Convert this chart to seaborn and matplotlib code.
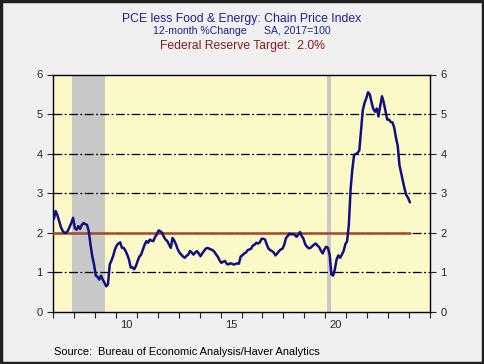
import numpy as np
import pandas as pd
import seaborn as sns
import matplotlib.pyplot as plt
from matplotlib.patches import Rectangle

# Core PCE, 12-month % change, monthly Jan 2007 - Jan 2024
y2007 = [2.35, 2.55, 2.45, 2.30, 2.15, 2.05, 2.00, 2.00, 2.05, 2.15, 2.25, 2.38]
y2008 = [2.12, 2.08, 2.17, 2.10, 2.20, 2.25, 2.22, 2.20, 2.04, 1.70, 1.41, 1.20]
y2009 = [0.92, 0.89, 0.82, 0.92, 0.82, 0.74, 0.65, 0.70, 1.20, 1.30, 1.42, 1.58]
y2010 = [1.68, 1.73, 1.76, 1.62, 1.62, 1.55, 1.45, 1.33, 1.12, 1.13, 1.08, 1.16]
y2011 = [1.29, 1.40, 1.45, 1.58, 1.70, 1.79, 1.75, 1.83, 1.80, 1.79, 1.90, 1.96]
y2012 = [2.06, 2.04, 2.00, 1.90, 1.83, 1.79, 1.70, 1.62, 1.87, 1.80, 1.70, 1.58]
y2013 = [1.50, 1.45, 1.40, 1.37, 1.42, 1.45, 1.54, 1.50, 1.45, 1.50, 1.54, 1.48]
y2014 = [1.41, 1.48, 1.54, 1.60, 1.62, 1.60, 1.58, 1.56, 1.52, 1.45, 1.39, 1.30]
y2015 = [1.24, 1.27, 1.29, 1.22, 1.20, 1.23, 1.22, 1.20, 1.21, 1.23, 1.22, 1.40]
y2016 = [1.43, 1.48, 1.50, 1.56, 1.58, 1.60, 1.68, 1.70, 1.75, 1.73, 1.76, 1.85]
y2017 = [1.85, 1.83, 1.70, 1.60, 1.56, 1.54, 1.50, 1.43, 1.48, 1.54, 1.58, 1.60]
y2018 = [1.70, 1.87, 1.92, 1.98, 1.96, 1.97, 1.95, 1.90, 1.95, 2.02, 1.92, 1.85]
y2019 = [1.71, 1.65, 1.61, 1.62, 1.66, 1.70, 1.73, 1.68, 1.64, 1.55, 1.48, 1.58]
y2020 = [1.65, 1.62, 1.45, 0.95, 0.92, 1.08, 1.33, 1.43, 1.37, 1.45, 1.54, 1.71]
y2021 = [1.79, 2.20, 3.10, 3.60, 3.97, 3.99, 4.02, 4.08, 4.60, 5.10, 5.28, 5.40]
y2022 = [5.55, 5.50, 5.30, 5.13, 5.06, 5.14, 4.94, 5.21, 5.45, 5.29, 5.08, 4.86]
y2023 = [4.86, 4.80, 4.79, 4.66, 4.40, 4.20, 3.71, 3.50, 3.30, 3.10, 2.95, 2.88]
y2024 = [2.77]

target = 2.0
recessions = [(2007.92, 2009.46), (2020.08, 2020.29)]
x_labels = ["10", "15", "20"]
x_label_years = [2010, 2015, 2020]

values = (y2007 + y2008 + y2009 + y2010 + y2011 + y2012 + y2013 + y2014 + y2015
          + y2016 + y2017 + y2018 + y2019 + y2020 + y2021 + y2022 + y2023 + y2024)
dates = pd.date_range("2007-01-01", periods=len(values), freq="MS")
df = pd.DataFrame({"date": dates, "pce": values})
df["t"] = df["date"].dt.year + (df["date"].dt.month - 0.5) / 12

sns.set_style("ticks")
plt.rcParams["font.family"] = ["Liberation Sans", "DejaVu Sans"]

fig = plt.figure(figsize=(4.84, 3.64), dpi=100, facecolor="#f0f0f0")
ax = fig.add_axes([53 / 484, 52 / 364, 377 / 484, 237.5 / 364])
ax.set_facecolor("#fcf9c9")

for start, end in recessions:
    ax.axvspan(start, end, color="#c8c8c8", lw=0, zorder=1)

for g in [1, 2, 3, 4, 5]:
    ax.axhline(g, color="black", lw=0.9, ls=(0, (7, 2, 1.5, 2)), zorder=2)

ax.plot([df["t"].iloc[0] - 1 / 24, df["t"].iloc[-1]], [target, target],
        color="#a8492a", lw=1.8, zorder=3)

sns.lineplot(data=df, x="t", y="pce", ax=ax, color="#101080", lw=1.8, zorder=4)

ax.set_xlim(2007, 2025)
ax.set_ylim(0, 6)
ax.set_xlabel("")
ax.set_ylabel("")

ax.set_xticks(np.arange(2007, 2026))
ax.set_xticklabels([])
ax.set_xticks([y + 0.5 for y in x_label_years], minor=True)
ax.set_xticklabels(x_labels, minor=True)
ax.tick_params(axis="x", which="major", length=4, width=0.8, direction="out")
ax.tick_params(axis="x", which="minor", length=0, labelsize=8, pad=6)

ax.set_yticks(range(0, 7))
ax.tick_params(axis="y", which="major", length=4, width=0.8, direction="out",
               labelsize=8, left=True, right=True, labelleft=True, labelright=True)

for s in ax.spines.values():
    s.set_color("black")
    s.set_linewidth(1.0)

fig.text(0.5, 1 - 19 / 364, "PCE less Food & Energy: Chain Price Index",
         ha="center", va="center", fontsize=8.8, color="#1f1f8f")
fig.text(0.5, 1 - 31 / 364, "12-month %Change      SA, 2017=100",
         ha="center", va="center", fontsize=7.6, color="#1f1f8f")
fig.text(0.5, 1 - 46 / 364, "Federal Reserve Target:  2.0%",
         ha="center", va="center", fontsize=8.7, color="#8b1a1a")
fig.text(54 / 484, 1 - 352 / 364, "Source:  Bureau of Economic Analysis/Haver Analytics",
         ha="left", va="center", fontsize=7.9, color="black")

fig.patches.append(Rectangle((0.003, 0.004), 0.994, 0.992, transform=fig.transFigure,
                             fill=False, edgecolor="#202020", lw=2.5))

fig.savefig("out.png", dpi=100, facecolor=fig.get_facecolor())
